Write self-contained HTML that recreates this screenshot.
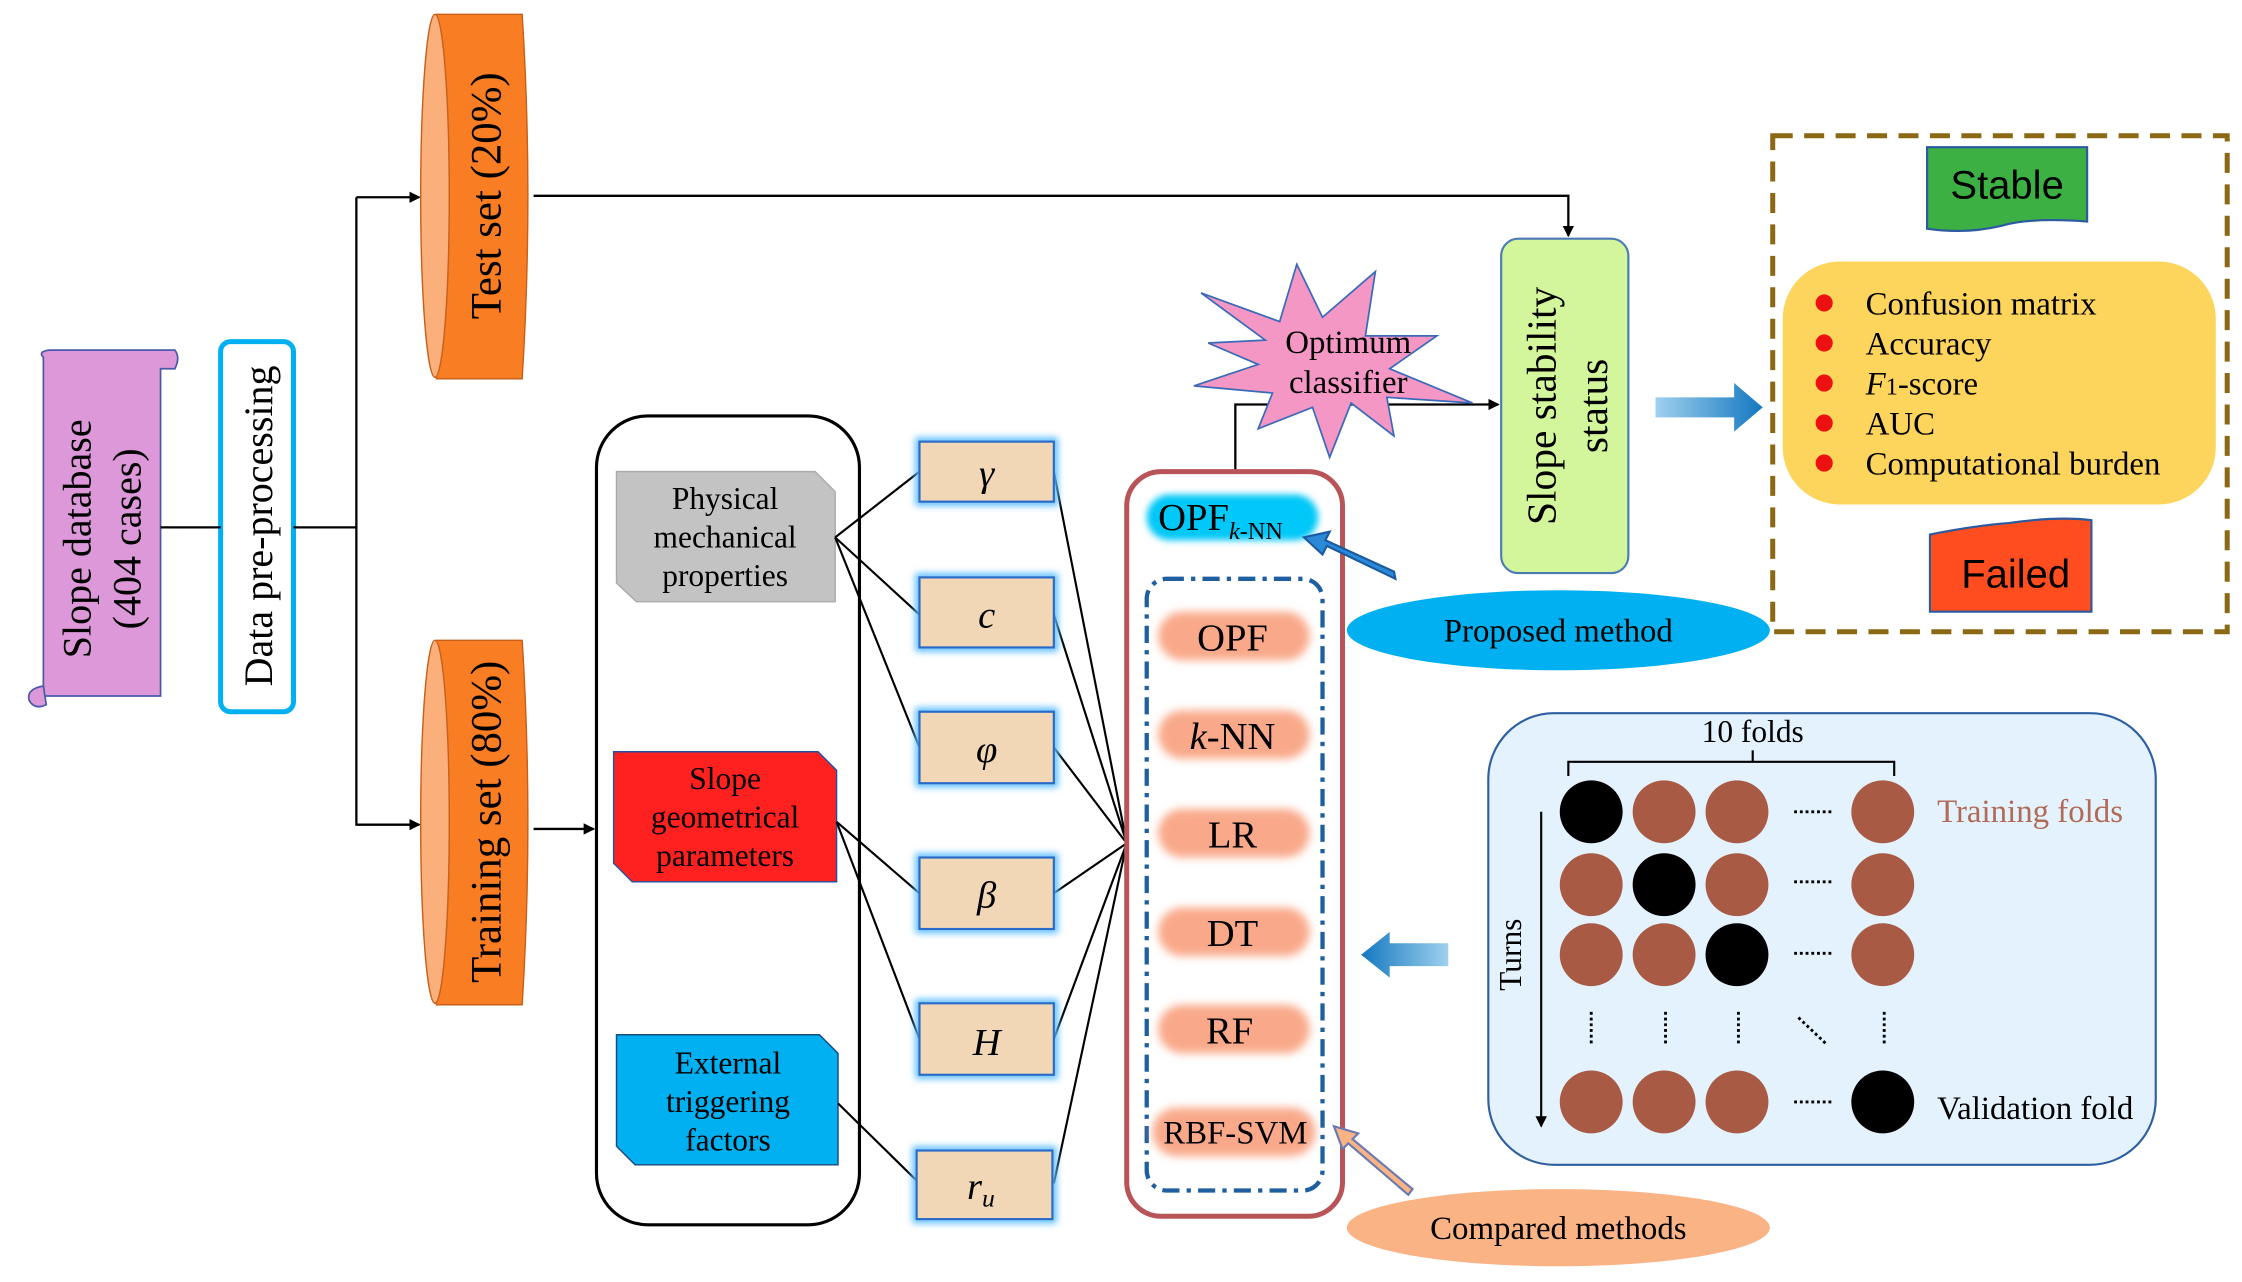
<!DOCTYPE html>
<html><head><meta charset="utf-8"><style>html,body{margin:0;padding:0;background:#fff}svg{display:block}text{font-family:"Liberation Serif",serif}</style></head>
<body>
<svg width="2242" height="1282" viewBox="0 0 1568 897" xmlns="http://www.w3.org/2000/svg">
<defs>
<marker id="ar" markerWidth="8" markerHeight="8" refX="7" refY="4" orient="auto" markerUnits="userSpaceOnUse"><path d="M0,0 L8,4 L0,8z" fill="#000"/></marker>
<filter id="bl" x="-20%" y="-40%" width="140%" height="180%"><feGaussianBlur stdDeviation="3"/></filter>
<filter id="gl" x="-20%" y="-30%" width="140%" height="160%"><feGaussianBlur stdDeviation="2.5"/></filter>
<linearGradient id="ba" x1="0" x2="1"><stop offset="0" stop-color="#9fd0ee"/><stop offset="1" stop-color="#1478c0"/></linearGradient>
<linearGradient id="ba2" x1="1" x2="0"><stop offset="0" stop-color="#9fd0ee"/><stop offset="1" stop-color="#1478c0"/></linearGradient>
</defs>
<path d="M30,250 L30,487 L112,487 L112,258 L122,258 Q126,250 122,245 L34,245 Q26,246 30,250 Z" fill="#dc98d8" stroke="#4a5aa8" stroke-width="1.2"/>
<path d="M30,480 Q18,482 20,490 Q24,497 32,493 L30,480" fill="#dc98d8" stroke="#4a5aa8" stroke-width="1.2"/>
<text transform="translate(63,377) rotate(-90)" text-anchor="middle" font-size="28">Slope database</text>
<text transform="translate(98,377) rotate(-90)" text-anchor="middle" font-size="28">(404 cases)</text>
<rect x="154" y="239" width="51" height="259" rx="7" fill="#fff" stroke="#00b0f0" stroke-width="3.5"/>
<text transform="translate(190,368) rotate(-90)" text-anchor="middle" font-size="28">Data pre-processing</text>
<g stroke="#000" stroke-width="1.6" fill="none">
<line x1="112" y1="369" x2="154" y2="369"/><line x1="205" y1="369" x2="249" y2="369"/>
<polyline points="293,577 249,577 249,138" />
<line x1="249" y1="577" x2="293" y2="577" marker-end="url(#ar)"/>
<line x1="249" y1="138" x2="293" y2="138" marker-end="url(#ar)"/>
<line x1="373" y1="580" x2="415" y2="580" marker-end="url(#ar)"/>
<polyline points="373,137 1097,137 1097,165" marker-end="url(#ar)"/>
<polyline points="864,329 864,283 1048,283" marker-end="url(#ar)"/>
</g>
<g stroke="#c8601a" stroke-width="1">
<path d="M305,10 L365,10 Q373,137 365,265 L305,265 Z" fill="#f97d22"/>
<ellipse cx="304" cy="137" rx="10" ry="127" fill="#fbb07c"/>
<path d="M305,448 L365,448 Q373,575 365,703 L305,703 Z" fill="#f97d22"/>
<ellipse cx="304" cy="575" rx="10" ry="127" fill="#fbb07c"/>
</g>
<text transform="translate(350,137) rotate(-90)" text-anchor="middle" font-size="30">Test set (20%)</text>
<text transform="translate(350,575) rotate(-90)" text-anchor="middle" font-size="30">Training set (80%)</text>
<rect x="417" y="291" width="184" height="566" rx="36" fill="none" stroke="#000" stroke-width="2.2"/>
<path d="M431,330 L570,330 L584,344 L584,421 L445,421 L431,408 Z" fill="#c3c3c3" stroke="#aaa"/>
<text text-anchor="middle" font-size="22"><tspan x="507" y="356">Physical</tspan><tspan x="507" y="383">mechanical</tspan><tspan x="507" y="410">properties</tspan></text>
<path d="M429,526 L572,526 L585,539 L585,617 L442,617 L429,604 Z" fill="#ff2020" stroke="#2050a0"/>
<text text-anchor="middle" font-size="22"><tspan x="507" y="552">Slope</tspan><tspan x="507" y="579">geometrical</tspan><tspan x="507" y="606">parameters</tspan></text>
<path d="M431,724 L573,724 L586,737 L586,815 L444,815 L431,802 Z" fill="#00b0f0" stroke="#1a4a80"/>
<text text-anchor="middle" font-size="22"><tspan x="509" y="751">External</tspan><tspan x="509" y="778">triggering</tspan><tspan x="509" y="805">factors</tspan></text>
<g stroke="#000" stroke-width="1.5">
<line x1="584" y1="376" x2="643" y2="330"/><line x1="584" y1="376" x2="643" y2="430"/><line x1="584" y1="376" x2="643" y2="523"/>
<line x1="585" y1="575" x2="643" y2="625"/><line x1="585" y1="575" x2="643" y2="727"/><line x1="586" y1="772" x2="643" y2="828"/>
<line x1="737" y1="330" x2="788" y2="590"/><line x1="737" y1="430" x2="788" y2="590"/><line x1="737" y1="523" x2="788" y2="590"/>
<line x1="737" y1="625" x2="788" y2="590"/><line x1="737" y1="727" x2="788" y2="590"/><line x1="737" y1="828" x2="788" y2="590"/>
</g>
<g fill="none" stroke="#60c0ff" stroke-width="6" filter="url(#gl)">
<rect x="643" y="309" width="94" height="42"/><rect x="643" y="404" width="94" height="49"/><rect x="643" y="498" width="94" height="50"/>
<rect x="643" y="600" width="94" height="50"/><rect x="643" y="702" width="94" height="50"/><rect x="641" y="805" width="95" height="48"/>
</g>
<g fill="#f1d7b5" stroke="#2a6ac8" stroke-width="1.5">
<rect x="643" y="309" width="94" height="42"/><rect x="643" y="404" width="94" height="49"/><rect x="643" y="498" width="94" height="50"/>
<rect x="643" y="600" width="94" height="50"/><rect x="643" y="702" width="94" height="50"/><rect x="641" y="805" width="95" height="48"/>
</g>
<g font-size="27" font-style="italic" text-anchor="middle">
<text x="690" y="340">γ</text><text x="690" y="439">c</text><text x="690" y="533">φ</text><text x="690" y="635">β</text><text x="690" y="738">H</text><text x="686" y="839">r<tspan font-size="18" dy="5">u</tspan></text>
</g>
<rect x="788" y="330" width="151" height="521" rx="24" fill="none" stroke="#b85458" stroke-width="3.5"/>
<rect x="802" y="346" width="120" height="32" rx="16" fill="#00c8f8" filter="url(#gl)"/>
<text x="810" y="371" font-size="27">OPF<tspan font-size="17" font-style="italic" dy="6">k</tspan><tspan font-size="17" dy="0">-NN</tspan></text>
<rect x="802" y="405" width="123" height="428" rx="14" fill="none" stroke="#1f5fa0" stroke-width="3" stroke-dasharray="12,5,3,5"/>
<g fill="#f9a98a" filter="url(#bl)">
<rect x="810" y="428" width="106" height="34" rx="17"/><rect x="810" y="497" width="106" height="34" rx="17"/><rect x="810" y="566" width="106" height="34" rx="17"/>
<rect x="810" y="635" width="106" height="34" rx="17"/><rect x="810" y="703" width="106" height="34" rx="17"/><rect x="806" y="775" width="114" height="34" rx="17"/>
</g>
<g font-size="27" text-anchor="middle">
<text x="862" y="455">OPF</text><text x="862" y="524"><tspan font-style="italic">k</tspan>-NN</text><text x="862" y="593">LR</text><text x="862" y="662">DT</text><text x="860" y="730">RF</text><text x="864" y="800" font-size="23">RBF-SVM</text>
</g>
<path d="M840,205 L895,225 L907,185 L925,222 L962,190 L955,235 L1005,235 L972,258 L1030,282 L970,278 L975,305 L945,282 L930,320 L918,285 L880,300 L890,275 L835,270 L880,255 L845,240 L885,238 Z" fill="#f497c4" stroke="#3a6ab8" stroke-width="1.2"/>
<text text-anchor="middle" font-size="23"><tspan x="943" y="247">Optimum</tspan><tspan x="943" y="275">classifier</tspan></text>
<rect x="1050" y="167" width="89" height="234" rx="12" fill="#d3f59c" stroke="#4a7bb5" stroke-width="1.5"/>
<text transform="translate(1088,284) rotate(-90)" text-anchor="middle" font-size="29">Slope stability</text>
<text transform="translate(1124,284) rotate(-90)" text-anchor="middle" font-size="29">status</text>
<path d="M1158,278 L1213,278 L1213,268 L1233,285 L1213,302 L1213,292 L1158,292 Z" fill="url(#ba)"/>
<rect x="1240" y="95" width="318" height="347" fill="none" stroke="#8b6914" stroke-width="3.5" stroke-dasharray="14,8"/>
<path d="M1348,103 L1460,103 L1460,155 Q1420,152 1400,158 Q1375,164 1348,160 Z" fill="#3cb043" stroke="#2a5aa0" stroke-width="1.5"/>
<text x="1404" y="139" text-anchor="middle" font-size="28" style="font-family:'Liberation Sans',sans-serif">Stable</text>
<rect x="1247" y="183" width="303" height="170" rx="40" fill="#fdd55c"/>
<g fill="#ee1111"><circle cx="1276" cy="212" r="6"/><circle cx="1276" cy="240" r="6"/><circle cx="1276" cy="268" r="6"/><circle cx="1276" cy="296" r="6"/><circle cx="1276" cy="324" r="6"/></g>
<g font-size="23"><text x="1305" y="220">Confusion matrix</text><text x="1305" y="248">Accuracy</text><text x="1305" y="276"><tspan font-style="italic">F</tspan><tspan font-size="17">1</tspan>-score</text><text x="1305" y="304">AUC</text><text x="1305" y="332">Computational burden</text></g>
<path d="M1350,374 Q1380,368 1405,366 Q1440,361 1463,364 L1463,428 L1350,428 Z" fill="#ff4d1f" stroke="#2a5aa0" stroke-width="1.5"/>
<text x="1410" y="411" text-anchor="middle" font-size="28" style="font-family:'Liberation Sans',sans-serif">Failed</text>
<ellipse cx="1090" cy="441" rx="148" ry="28" fill="#00b0f0"/>
<text x="1090" y="449" text-anchor="middle" font-size="23">Proposed method</text>
<path d="M976,405 L928,382 L925,388 L912,376 L930,372 L927,378 L975,400 Z" fill="#2a8ad8" stroke="#1a5aa0" stroke-width="1.5"/>
<ellipse cx="1090" cy="859" rx="148" ry="27" fill="#f9b384"/>
<text x="1090" y="867" text-anchor="middle" font-size="23">Compared methods</text>
<path d="M988,832 L946,797 L950,793 L933,788 L939,804 L943,800 L985,836 Z" fill="#f9b384" stroke="#6a7ab0" stroke-width="1.5"/>
<rect x="1041" y="499" width="467" height="316" rx="46" fill="#e4f2fd" stroke="#2e5fa0" stroke-width="1.5"/>
<path d="M1013,660 L972,660 L972,652 L952,668 L972,684 L972,676 L1013,676 Z" fill="url(#ba2)"/>
<text x="1226" y="519" text-anchor="middle" font-size="22">10 folds</text>
<path d="M1097,543 L1097,533 L1226,533 L1226,525 M1226,533 L1325,533 L1325,543" fill="none" stroke="#000" stroke-width="1.5"/>
<text transform="translate(1064,668) rotate(-90)" text-anchor="middle" font-size="22">Turns</text>
<line x1="1078" y1="568" x2="1078" y2="788" stroke="#000" stroke-width="1.5" marker-end="url(#ar)"/>
<g fill="#a85a45">
<circle cx="1164" cy="568" r="22"/><circle cx="1215" cy="568" r="22"/><circle cx="1317" cy="568" r="22"/>
<circle cx="1113" cy="619" r="22"/><circle cx="1215" cy="619" r="22"/><circle cx="1317" cy="619" r="22"/>
<circle cx="1113" cy="668" r="22"/><circle cx="1164" cy="668" r="22"/><circle cx="1317" cy="668" r="22"/>
<circle cx="1113" cy="771" r="22"/><circle cx="1164" cy="771" r="22"/><circle cx="1215" cy="771" r="22"/>
</g>
<g fill="#000"><circle cx="1113" cy="568" r="22"/><circle cx="1164" cy="619" r="22"/><circle cx="1215" cy="668" r="22"/><circle cx="1317" cy="771" r="22"/></g>
<g stroke="#000" stroke-width="2" stroke-dasharray="2,2" fill="none">
<line x1="1255" y1="568" x2="1281" y2="568"/><line x1="1255" y1="617" x2="1281" y2="617"/><line x1="1255" y1="667" x2="1281" y2="667"/><line x1="1255" y1="771" x2="1281" y2="771"/>
<line x1="1113" y1="708" x2="1113" y2="732"/><line x1="1165" y1="708" x2="1165" y2="732"/><line x1="1216" y1="708" x2="1216" y2="732"/><line x1="1318" y1="708" x2="1318" y2="732"/>
<line x1="1258" y1="712" x2="1277" y2="730"/>
</g>
<text x="1355" y="575" font-size="23" fill="#b06a55">Training folds</text>
<text x="1355" y="783" font-size="23">Validation fold</text>
</svg>
</body></html>
